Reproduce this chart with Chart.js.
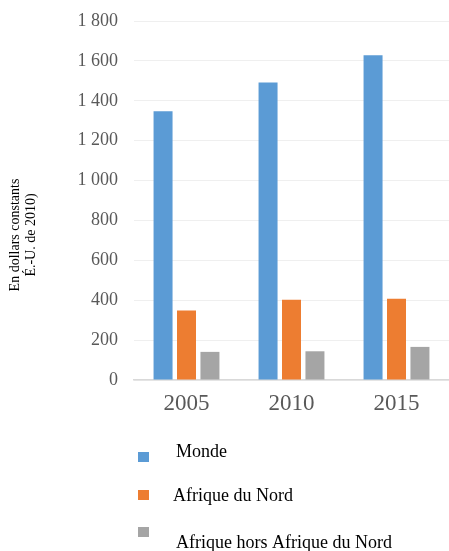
<!DOCTYPE html>
<html lang="fr">
<head>
<meta charset="utf-8">
<title>PIB par habitant</title>
<script src="https://cdn.jsdelivr.net/npm/chart.js@4/dist/chart.umd.min.js"></script>
<style>
  html, body { margin: 0; padding: 0; background: #ffffff; }
  #wrap { width: 449px; height: 551px; position: relative; }
</style>
</head>
<body>
<div id="wrap"><canvas id="chart" width="449" height="551"></canvas></div>
<script>
// Années (catégories)
const years = ['2005', '2010', '2015'];

// Séries (dollars constants É.-U. de 2010)
const monde = [1347, 1492, 1628];
const afriqueNord = [348, 402, 407];
const afriqueHorsNord = [141, 144, 166];

// Libellés des séries
const seriesLabels = ['Monde', 'Afrique du Nord', 'Afrique hors Afrique du Nord'];

// Titre de l'axe vertical (deux lignes)
const yTitleLines = ['En dollars constants', 'É.-U. de 2010)'];

const colors = ['#5b9bd5', '#ed7d31', '#a5a5a5'];
const serif = '"Liberation Serif", "Times New Roman", serif';

// Titre vertical de l'axe des ordonnées
const yTitlePlugin = {
  id: 'yTitle',
  afterDraw(chart) {
    const ctx = chart.ctx;
    ctx.save();
    ctx.font = '14px ' + serif;
    ctx.fillStyle = '#000000';
    ctx.textAlign = 'center';
    ctx.textBaseline = 'middle';
    const xs = [15, 31];
    yTitleLines.forEach((line, i) => {
      ctx.save();
      ctx.translate(xs[i], 235);
      ctx.rotate(-Math.PI / 2);
      ctx.fillText(line, 0, 0);
      ctx.restore();
    });
    ctx.restore();
  }
};

// Légende verticale sous le graphique
const legendPlugin = {
  id: 'stackedLegend',
  afterDraw(chart) {
    const ctx = chart.ctx;
    const boxTops = [452, 490, 527];
    const textX = [176, 173, 176];
    const baselines = [457, 501, 548];
    ctx.save();
    ctx.font = '18px ' + serif;
    ctx.textAlign = 'left';
    ctx.textBaseline = 'alphabetic';
    chart.data.datasets.forEach((ds, i) => {
      ctx.fillStyle = ds.backgroundColor;
      ctx.fillRect(138, boxTops[i], 11, 10);
      ctx.fillStyle = '#000000';
      ctx.fillText(ds.label, textX[i], baselines[i]);
    });
    ctx.restore();
  }
};

const series = [monde, afriqueNord, afriqueHorsNord];

new Chart(document.getElementById('chart'), {
  type: 'bar',
  data: {
    labels: years,
    datasets: series.map((values, i) => ({
      label: seriesLabels[i],
      data: values,
      backgroundColor: colors[i],
      borderWidth: 0,
      categoryPercentage: 0.67,
      barPercentage: 0.81
    }))
  },
  options: {
    responsive: false,
    animation: false,
    layout: { padding: { left: 0, right: -3, top: 21, bottom: 126 } },
    plugins: {
      legend: { display: false },
      tooltip: { enabled: false }
    },
    scales: {
      x: {
        grid: { display: false, drawTicks: false },
        border: { display: true, color: '#d9d9d9', width: 1.5 },
        ticks: {
          color: '#595959',
          font: { family: serif, size: 23 },
          padding: 10
        },
        afterFit(scale) { scale.height = 45; }
      },
      y: {
        min: 0,
        max: 1800,
        grid: { color: '#efefef', lineWidth: 1, drawTicks: false },
        border: { display: false },
        ticks: {
          stepSize: 200,
          color: '#595959',
          font: { family: serif, size: 18 },
          padding: 16,
          callback(value) {
            return String(value).replace(/\B(?=(\d{3})+(?!\d))/g, ' ');
          }
        },
        afterFit(scale) {
          scale.width = 134;
          scale.paddingTop = 10;
          scale.paddingBottom = 10;
        }
      }
    }
  },
  plugins: [yTitlePlugin, legendPlugin]
});
</script>
</body>
</html>
